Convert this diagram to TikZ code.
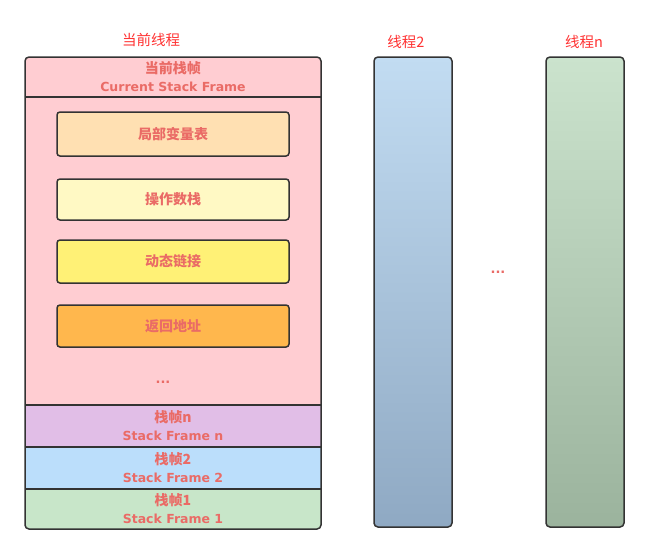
\documentclass[tikz,border=0pt]{standalone}
\usepackage{fontspec}
\setmainfont{DejaVu Sans}
\newfontfamily\cjk{Noto Sans CJK SC}
\definecolor{txt}{HTML}{EA6B66}
\definecolor{ttl}{HTML}{FF3333}
\definecolor{bd}{HTML}{333333}
\definecolor{pk}{HTML}{FFCDD2}
\definecolor{lvc}{HTML}{FFE0B2}
\definecolor{osc}{HTML}{FFF9C4}
\definecolor{dlc}{HTML}{FFF176}
\definecolor{rac}{HTML}{FFB74D}
\definecolor{sfnc}{HTML}{E1BEE7}
\definecolor{sftc}{HTML}{BBDEFB}
\definecolor{sfoc}{HTML}{C8E6C9}
\definecolor{btop}{HTML}{C2DCF2}
\definecolor{bbot}{HTML}{8FA9C3}
\definecolor{gtop}{HTML}{CBE3CD}
\definecolor{gbot}{HTML}{9BB39D}
\tikzset{
  sect/.style={draw=none, minimum width=296pt, inner sep=0pt, text=txt, align=center, font=\bfseries\fontsize{12.5}{18}\selectfont},
  inbox/.style={draw=bd, line width=1.5pt, rounded corners=3pt, minimum width=232pt, inner sep=0pt, text=txt, font=\cjk\bfseries\fontsize{14}{16}\selectfont},
  title/.style={text=ttl, font=\cjk\fontsize{14.5}{16}\selectfont, inner sep=0pt},
  thread/.style={draw=bd, line width=1.5pt, rounded corners=4pt, minimum width=78pt, minimum height=470pt, inner sep=0pt},
  dotsl/.style={text=txt, font=\bfseries\fontsize{13}{14}\selectfont, inner sep=0pt}
}
\begin{document}
\begin{tikzpicture}[x=1pt,y=-1pt]
\useasboundingbox (0,0) rectangle (649,555);
\fill[white] (0,0) rectangle (649,555);
% left column fills
\begin{scope}
\clip[rounded corners=4pt] (25,57) rectangle (321,529);
\node[sect, fill=pk, minimum height=40pt] (cur) at (173,77) {{\cjk\bfseries\fontsize{14}{16}\selectfont 当前栈帧}\\Current Stack Frame};
\node[sect, fill=pk, minimum height=308pt] (body) at (173,251) {};
\node[sect, fill=sfnc, minimum height=42pt] (sfn) at (173,426) {{\cjk\bfseries\fontsize{14}{16}\selectfont 栈帧n}\\Stack Frame n};
\node[sect, fill=sftc, minimum height=42pt] (sft) at (173,468) {{\cjk\bfseries\fontsize{14}{16}\selectfont 栈帧2}\\Stack Frame 2};
\node[sect, fill=sfoc, minimum height=40pt] (sfo) at (173,509) {{\cjk\bfseries\fontsize{14}{16}\selectfont 栈帧1}\\Stack Frame 1};
\end{scope}
\draw[bd, line width=1.5pt, rounded corners=4pt] (25,57) rectangle (321,529);
\draw[bd, line width=1.5pt] (cur.south west) -- (cur.south east);
\draw[bd, line width=1.5pt] (sfn.north west) -- (sfn.north east);
\draw[bd, line width=1.5pt] (sft.north west) -- (sft.north east);
\draw[bd, line width=1.5pt] (sfo.north west) -- (sfo.north east);
% inner boxes
\node[inbox, fill=lvc, minimum height=44pt] (lv) at (173,134) {局部变量表};
\node[inbox, fill=osc, minimum height=41pt] (os) at (173,199.5) {操作数栈};
\node[inbox, fill=dlc, minimum height=43pt] (dl) at (173,261.5) {动态链接};
\node[inbox, fill=rac, minimum height=42pt] (ra) at (173,326) {返回地址};
\node[dotsl] (d1) at (163,382) {...};
% titles
\node[title] (t1) at (151,40) {当前线程};
\node[title] (t2) at (406,42) {线程2};
\node[title] (tn) at (584,42) {线程n};
% threads
\node[thread, top color=btop, bottom color=bbot] (th2) at (413,292) {};
\node[thread, top color=gtop, bottom color=gbot] (thn) at (585,292) {};
\node[dotsl] (d2) at (498,272) {...};
\end{tikzpicture}
\end{document}
